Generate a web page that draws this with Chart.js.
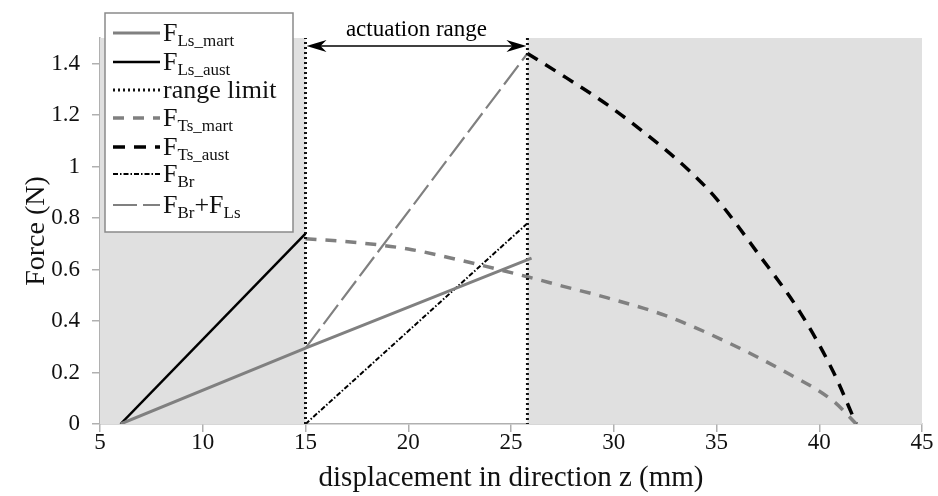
<!DOCTYPE html>
<html>
<head>
<meta charset="utf-8">
<script src="https://cdn.jsdelivr.net/npm/chart.js@4/dist/chart.umd.min.js"></script>
<style>
html,body{margin:0;padding:0;background:#fff;}
#wrap{width:938px;height:496px;position:relative;}
</style>
</head>
<body>
<div id="wrap"><canvas id="c" width="938" height="496"></canvas></div>
<script>
// ---- data ----
const xLsMart = [6, 15, 26];
const yLsMart = [0, 0.295, 0.645];
const xLsAust = [6, 15];
const yLsAust = [0, 0.74];
const rangeLimitX = [15, 25.8];
const rangeLimitTop = 1.5;
const xTsMart = [15, 17.5, 20, 22.5, 25.8, 27.5, 29.7, 32.5, 35.2, 38.4, 40.7, 41.8];
const yTsMart = [0.72, 0.705, 0.68, 0.637, 0.572, 0.536, 0.49, 0.422, 0.33, 0.20, 0.088, 0];
const xTsAust = [25.8, 27.7, 29.7, 31.6, 33.6, 35.0, 37.0, 39.1, 40.7, 41.8];
const yTsAust = [1.44, 1.345, 1.24, 1.125, 0.99, 0.875, 0.665, 0.43, 0.20, 0];
const xBr = [15, 25.8];
const yBr = [0, 0.78];
const xBrLs = [15, 25.8];
const yBrLs = [0.295, 1.44];
const shadedRanges = [[5, 15], [25.8, 45]];
const xTicks = [5, 10, 15, 20, 25, 30, 35, 40, 45];
const yTicks = [0, 0.2, 0.4, 0.6, 0.8, 1, 1.2, 1.4];
const legendLabels = [
  ['F', 'Ls_mart'], ['F', 'Ls_aust'], ['range limit', ''], ['F', 'Ts_mart'],
  ['F', 'Ts_aust'], ['F', 'Br'], ['F', 'Br', '+F', 'Ls']
];
const annotationText = 'actuation range';

const pts = (xs, ys) => xs.map((x, i) => ({x: x, y: ys[i]}));
const rangePts = [
  {x: rangeLimitX[0], y: 0}, {x: rangeLimitX[0], y: rangeLimitTop}, {x: rangeLimitX[0], y: null},
  {x: rangeLimitX[1], y: rangeLimitTop}, {x: rangeLimitX[1], y: 0}
];

const GRAY = '#808080';
const SERIF = '"Liberation Serif", "Times New Roman", serif';

const datasets = [
  {data: pts(xLsMart, yLsMart), borderColor: GRAY, borderWidth: 3},
  {data: pts(xLsAust, yLsAust), borderColor: '#000', borderWidth: 2.5},
  {data: rangePts, borderColor: '#111', borderWidth: 3, borderDash: [2, 3], spanGaps: false},
  {data: pts(xTsMart, yTsMart), borderColor: GRAY, borderWidth: 3.5, borderDash: [11, 9], cubicInterpolationMode: 'monotone'},
  {data: pts(xTsAust, yTsAust), borderColor: '#000', borderWidth: 3.5, borderDash: [12, 9], cubicInterpolationMode: 'monotone'},
  {data: pts(xBr, yBr), borderColor: '#000', borderWidth: 2, borderDash: [5, 2, 1.5, 2]},
  {data: pts(xBrLs, yBrLs), borderColor: GRAY, borderWidth: 2.2, borderDash: [24, 6]}
].map(d => Object.assign({showLine: true, pointRadius: 0, fill: false, tension: 0}, d));

const bgPlugin = {
  id: 'shade',
  beforeDatasetsDraw(chart) {
    const {ctx, scales: {x, y}} = chart;
    ctx.save();
    ctx.fillStyle = '#e0e0e0';
    shadedRanges.forEach(r => {
      const x0 = x.getPixelForValue(r[0]), x1 = x.getPixelForValue(r[1]);
      const y0 = y.getPixelForValue(rangeLimitTop), y1 = y.getPixelForValue(0);
      ctx.fillRect(x0, y0, x1 - x0, y1 - y0);
    });
    ctx.restore();
  }
};

const overlayPlugin = {
  id: 'overlay',
  afterDraw(chart) {
    const {ctx, scales: {x, y}} = chart;
    ctx.save();
    // annotation arrow
    const xa = x.getPixelForValue(rangeLimitX[0]) + 1, xb = x.getPixelForValue(rangeLimitX[1]) - 1;
    const ya = 46;
    ctx.strokeStyle = '#000'; ctx.fillStyle = '#000'; ctx.lineWidth = 1.5;
    ctx.beginPath(); ctx.moveTo(xa + 8, ya); ctx.lineTo(xb - 8, ya); ctx.stroke();
    const head = (tip, dir) => {
      ctx.beginPath();
      ctx.moveTo(tip, ya);
      ctx.lineTo(tip + dir * 20, ya - 6);
      ctx.lineTo(tip + dir * 14, ya);
      ctx.lineTo(tip + dir * 20, ya + 6);
      ctx.closePath(); ctx.fill();
    };
    head(xa, 1); head(xb, -1);
    ctx.font = '23px ' + SERIF;
    ctx.textAlign = 'center'; ctx.textBaseline = 'alphabetic';
    ctx.fillText(annotationText, (xa + xb) / 2, 36);

    // legend
    const bx = 105, by = 13, bw = 188, bh = 219;
    ctx.fillStyle = '#fff';
    ctx.fillRect(bx, by, bw, bh);
    ctx.strokeStyle = '#8a8a8a'; ctx.lineWidth = 1.5;
    ctx.strokeRect(bx, by, bw, bh);
    const rowY = [33, 62, 90, 118, 147, 174, 205];
    chart.data.datasets.forEach((ds, i) => {
      const ly = rowY[i];
      ctx.save();
      ctx.strokeStyle = ds.borderColor;
      ctx.lineWidth = ds.borderWidth;
      ctx.setLineDash(ds.borderDash || []);
      ctx.beginPath(); ctx.moveTo(113, ly); ctx.lineTo(160, ly); ctx.stroke();
      ctx.restore();
      ctx.fillStyle = '#111';
      ctx.textAlign = 'left'; ctx.textBaseline = 'alphabetic';
      const parts = legendLabels[i];
      let tx = 163;
      const base = ly + 8;
      parts.forEach((p, k) => {
        if (!p) return;
        const sub = (k % 2 === 1);
        ctx.font = (sub ? '17px ' : '26px ') + SERIF;
        ctx.fillText(p, tx, sub ? base + 5 : base);
        tx += ctx.measureText(p).width;
      });
    });
    ctx.restore();
  }
};

new Chart(document.getElementById('c'), {
  type: 'scatter',
  data: {datasets: datasets},
  options: {
    responsive: false,
    animation: false,
    devicePixelRatio: 1,
    layout: {padding: {left: 0, right: 16, top: 38, bottom: 0}},
    plugins: {legend: {display: false}, tooltip: {enabled: false}},
    scales: {
      x: {
        type: 'linear', min: 5, max: 45,
        afterBuildTicks: s => { s.ticks = xTicks.map(v => ({value: v})); },
        afterFit: s => { s.height = 72; },
        grid: {display: true, drawOnChartArea: false, drawTicks: true, tickLength: 8, color: '#b0b0b0', lineWidth: 1.5},
        border: {display: true, color: '#b0b0b0', width: 1.5},
        ticks: {color: '#111', font: {family: SERIF, size: 23}, padding: -3, maxRotation: 0,
                callback: v => String(v)},
        title: {display: true, text: 'displacement in direction z (mm)', color: '#111', font: {family: SERIF, size: 29}, padding: {top: -6, bottom: 0}}
      },
      y: {
        type: 'linear', min: 0, max: 1.5,
        afterBuildTicks: s => { s.ticks = yTicks.map(v => ({value: v})); },
        afterFit: s => { s.width = 100; },
        grid: {display: true, drawOnChartArea: false, drawTicks: true, tickLength: 8, color: '#b0b0b0', lineWidth: 1.5},
        border: {display: true, color: '#b0b0b0', width: 1.5},
        ticks: {color: '#111', font: {family: SERIF, size: 23}, padding: 12,
                callback: v => String(+Number(v).toFixed(2))},
        title: {display: true, text: 'Force (N)', color: '#111', font: {family: SERIF, size: 28}, padding: {top: 20, bottom: 0}}
      }
    }
  },
  plugins: [bgPlugin, overlayPlugin]
});
</script>
</body>
</html>
